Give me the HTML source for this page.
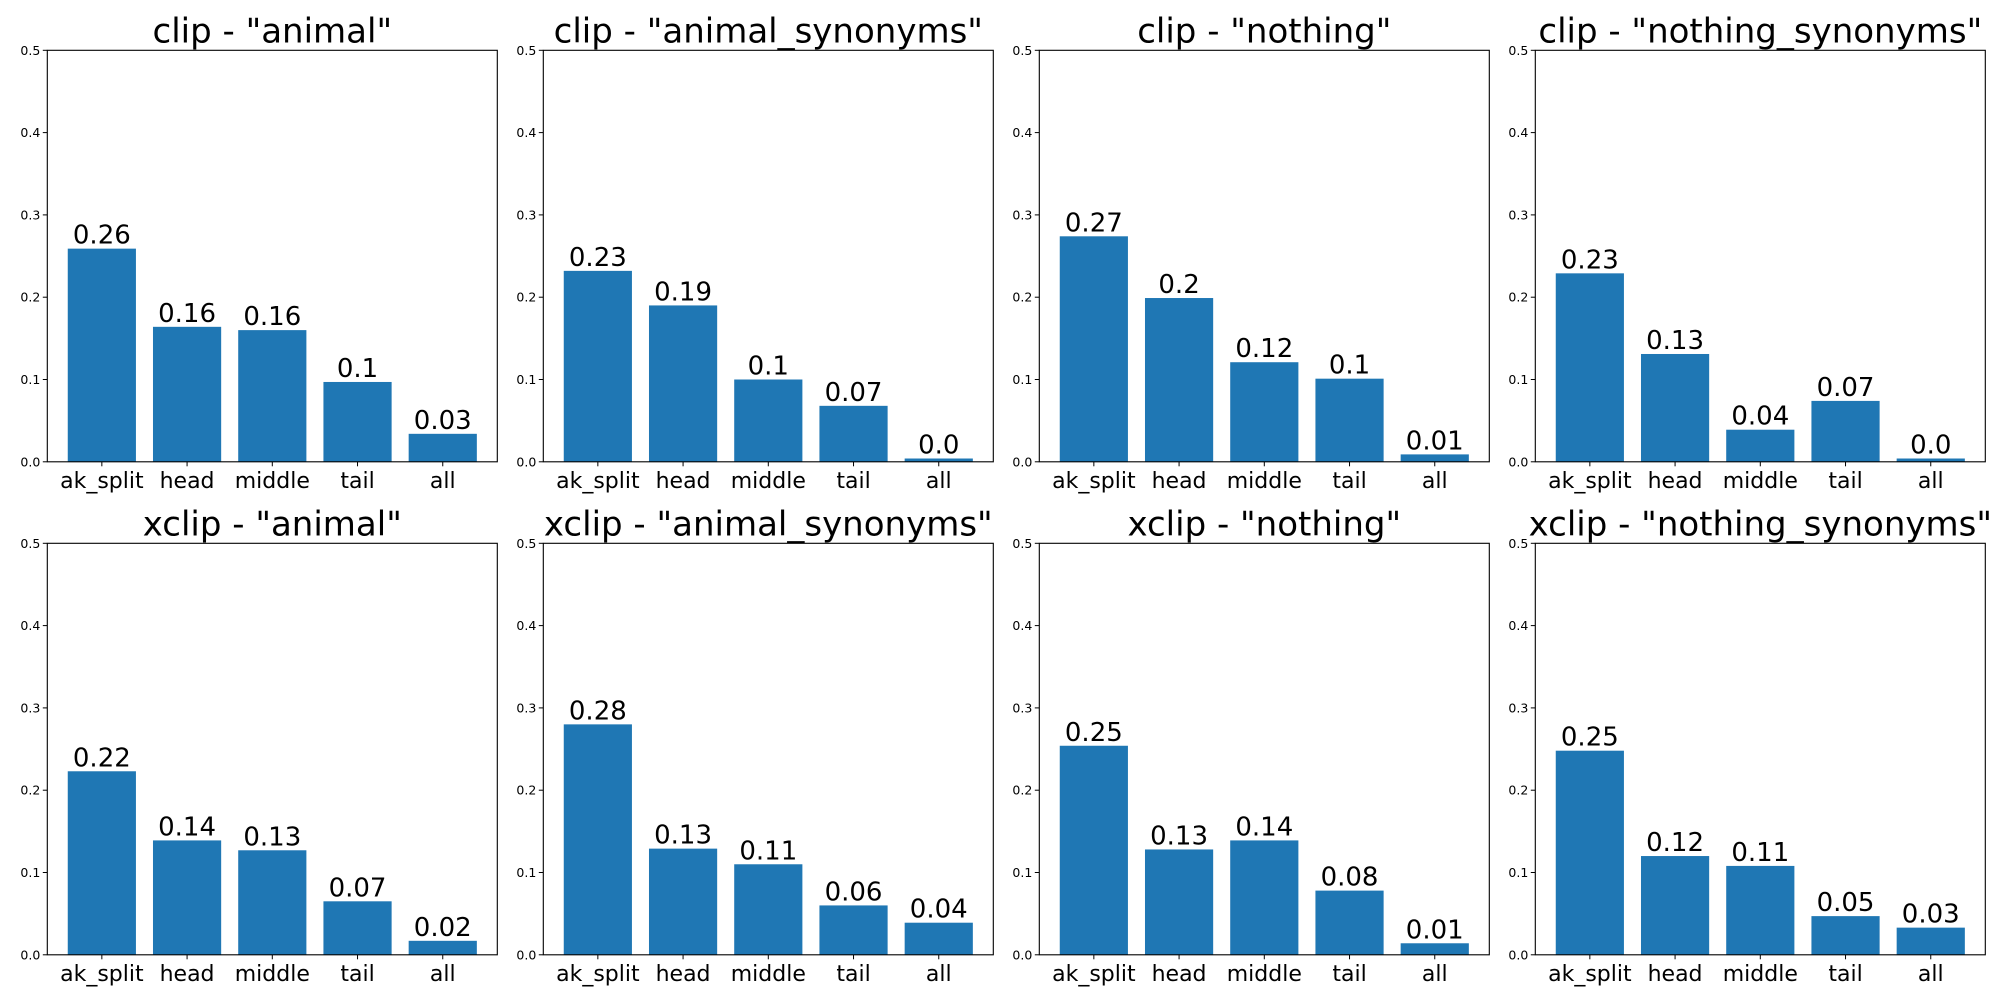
<!DOCTYPE html>
<html><head><meta charset="utf-8"><style>
html,body{margin:0;padding:0;background:#fff;}
svg{display:block;font-family:"DejaVu Sans","Liberation Sans",sans-serif;}
</style></head><body>
<svg id="fig" width="2000" height="1000" viewBox="0 0 2000 1000" xmlns="http://www.w3.org/2000/svg"></svg>
<script>
const categories = ["ak_split","head","middle","tail","all"];
const titles = ['clip - "animal"','clip - "animal_synonyms"','clip - "nothing"','clip - "nothing_synonyms"',
                'xclip - "animal"','xclip - "animal_synonyms"','xclip - "nothing"','xclip - "nothing_synonyms"'];
const clipAnimal = [0.259,0.164,0.160,0.097,0.034];
const clipAnimalSyn = [0.232,0.190,0.100,0.068,0.004];
const clipNothing = [0.274,0.199,0.121,0.101,0.009];
const clipNothingSyn = [0.229,0.131,0.039,0.074,0.004];
const xclipAnimal = [0.223,0.139,0.127,0.065,0.017];
const xclipAnimalSyn = [0.280,0.129,0.110,0.060,0.039];
const xclipNothing = [0.254,0.128,0.139,0.078,0.014];
const xclipNothingSyn = [0.248,0.120,0.108,0.047,0.033];
const yTicks = [0.0,0.1,0.2,0.3,0.4,0.5];
const yTickLabels = ["0.0","0.1","0.2","0.3","0.4","0.5"];
const yMax = 0.5;

const series = [clipAnimal,clipAnimalSyn,clipNothing,clipNothingSyn,xclipAnimal,xclipAnimalSyn,xclipNothing,xclipNothingSyn];
const NS = "http://www.w3.org/2000/svg";
const svg = document.getElementById("fig");
function mk(tag, attrs, parent){
  const e = document.createElementNS(NS, tag);
  for (const k in attrs) e.setAttribute(k, attrs[k]);
  parent.appendChild(e);
  return e;
}
function fmt(v){
  const r = Math.round(v*100)/100;
  let s = String(r);
  if (s.indexOf(".") < 0) s += ".0";
  return s;
}
const axW = 450, axH = 411.5;
const lefts = [47.3, 543.3, 1039.3, 1535.3];
const tops = [50.3, 543.3];
series.forEach((vals, i) => {
  const L = lefts[i%4], T = tops[Math.floor(i/4)], B = T + axH;
  const g = mk("g", {}, svg);
  
  
  const xmin = -0.64, xmax = 4.64;
  const xs = v => L + (v - xmin) / (xmax - xmin) * axW;
  const ys = v => B - v / yMax * axH;
  const bw = 0.8 * axW / (xmax - xmin);
  vals.forEach((v, j) => {
    const r = mk("rect", {x: xs(j) - bw/2, y: ys(v), width: bw, height: B - ys(v), fill: "#1f77b4"}, g);
    
    
    const t = mk("text", {x: xs(j), y: ys(v) - 5, "font-size": 26, "text-anchor": "middle", fill: "#000"}, g);
    
    
    t.textContent = fmt(v);
    mk("line", {x1: xs(j), x2: xs(j), y1: B, y2: B + 4.5, stroke: "#000", "stroke-width": 1}, g);
    const c = mk("text", {x: xs(j), y: B + 26, "font-size": 22, "text-anchor": "middle", fill: "#000"}, g);
    
    
    c.textContent = categories[j];
  });
  yTicks.forEach((tv, k) => {
    mk("line", {x1: L - 4.5, x2: L, y1: ys(tv), y2: ys(tv), stroke: "#000", "stroke-width": 1}, g);
    const t = mk("text", {x: L - 7, y: ys(tv) + 4.5, "font-size": 12.5, "text-anchor": "end", fill: "#000"}, g);
    
    
    t.textContent = yTickLabels[k];
  });
  const fr = mk("rect", {x: L, y: T, width: axW, height: axH, fill: "none", stroke: "#000", "stroke-width": 1.1}, g);
  
  
  const tt = mk("text", {x: L + axW/2, y: T - 8, "font-size": 34, "text-anchor": "middle", fill: "#000"}, g);
  
  
  tt.textContent = titles[i];
});
</script>
</body></html>
